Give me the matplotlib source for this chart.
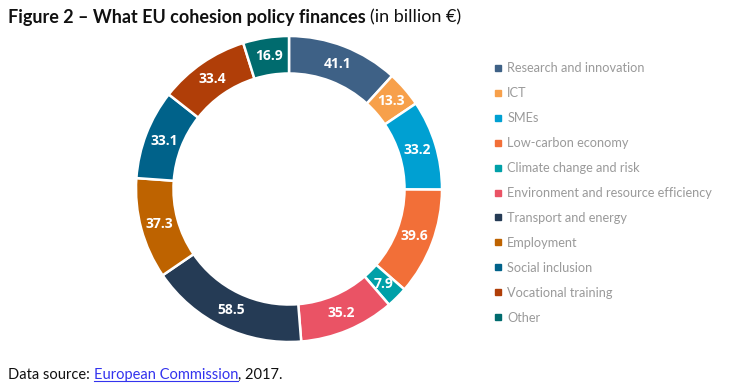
import matplotlib
matplotlib.use("Agg")
import matplotlib.pyplot as plt
from matplotlib.lines import Line2D
import numpy as np

categories = ["Research and innovation", "ICT", "SMEs", "Low-carbon economy",
              "Climate change and risk", "Environment and resource efficiency",
              "Transport and energy", "Employment", "Social inclusion",
              "Vocational training", "Other"]
values = [41.1, 13.3, 33.2, 39.6, 7.9, 35.2, 58.5, 37.3, 33.1, 33.4, 16.9]
colors = ["#3E6186", "#F7A04B", "#00A0D2", "#F26F38", "#00A0A8", "#EA5365",
          "#253B55", "#BE6300", "#00628A", "#B03E08", "#006B6E"]

W, H = 750, 392
fig = plt.figure(figsize=(W / 100, H / 100), dpi=100)
fig.patch.set_facecolor("white")

cx, cy, r = 289, 189, 153
ax = fig.add_axes([(cx - r) / W, (H - cy - r) / H, 2 * r / W, 2 * r / H])
width = 0.245
wedges, _ = ax.pie(values, colors=colors, startangle=90, counterclock=False,
                   radius=1, wedgeprops=dict(width=width, edgecolor="white", linewidth=1.8))
ax.set_xlim(-1, 1)
ax.set_ylim(-1, 1)
ax.set_aspect("equal")
ax.axis("off")

total = sum(values)
ang = 90.0
for v in values:
    mid = ang - v / total * 360 / 2
    rad = np.deg2rad(mid)
    rr = 1 - width / 2
    ax.text(rr * np.cos(rad), rr * np.sin(rad), f"{v:.1f}", ha="center", va="center",
            color="white", fontsize=10, fontweight="bold", family="Open Sans")
    ang -= v / total * 360

# legend
handles = [Line2D([], [], marker="s", linestyle="none", markersize=4.2,
                  markerfacecolor=c, markeredgecolor=c) for c in colors]
leg = fig.legend(handles, categories, loc="upper left",
                 bbox_to_anchor=(483 / W, 1 - 51 / H), frameon=False,
                 handlelength=0.6, handletextpad=0.4, labelspacing=1.01,
                 prop=dict(family="Lato", size=9.2))
for t in leg.get_texts():
    t.set_color("#9a9a9a")

# title
renderer = fig.canvas.get_renderer()
t1 = fig.text(8 / W, 1 - 17 / H, "Figure 2 \u2013 What EU cohesion policy finances",
              fontsize=13.0, fontweight="bold", family="Lato", va="center", ha="left",
              color="#111111")
bb = t1.get_window_extent(renderer)
fig.text(bb.x1 / W + 4 / W, 1 - 17 / H, "(in billion \u20ac)", fontsize=13.0,
         family="Lato", va="center", ha="left", color="#111111")

# source
y_src = 1 - 375 / H
s1 = fig.text(8 / W, y_src, "Data source: ", fontsize=10.5, family="Lato",
              va="center", ha="left", color="#111111")
b1 = s1.get_window_extent(renderer)
s2 = fig.text(b1.x1 / W, y_src, "European Commission", fontsize=10.5, family="Lato",
              va="center", ha="left", color="#3333EE")
b2 = s2.get_window_extent(renderer)
fig.add_artist(Line2D([b2.x0 / W, b2.x1 / W], [(b2.y0 + 1) / H, (b2.y0 + 1) / H],
                      color="#3333EE", linewidth=0.8))
fig.text(b2.x1 / W, y_src, ", 2017.", fontsize=10.5, family="Lato",
         va="center", ha="left", color="#111111")

fig.savefig("out.png", dpi=100, facecolor="white")
